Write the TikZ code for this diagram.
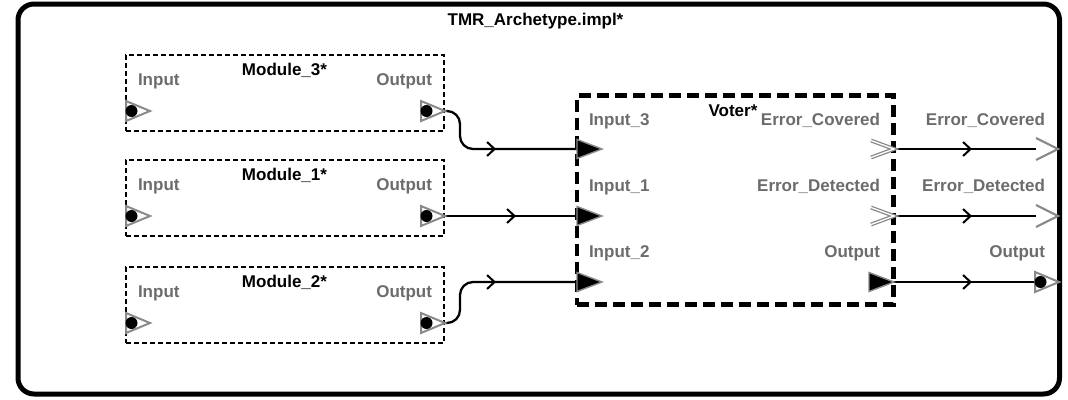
\documentclass[tikz,border=0pt]{standalone}
\usepackage{fontspec}
\setmainfont{Liberation Sans}
\usetikzlibrary{arrows.meta,decorations.markings,calc}
\definecolor{labelgray}{HTML}{6C6C6C}
\definecolor{portgray}{HTML}{8A8A8A}
\tikzset{
  lbl/.style={font=\fontsize{17}{20}\selectfont\bfseries, inner sep=0pt, outer sep=0pt},
  portlabel/.style={lbl, text=labelgray},
  namelabel/.style={lbl, text=black},
  sysframe/.style={draw, line width=5pt, rounded corners=16pt, inner sep=0pt},
  modbox/.style={draw, line width=1.8pt, dash pattern=on 5pt off 3pt,
    minimum width=318pt, minimum height=76pt, inner sep=0pt},
  voterbox/.style={draw, line width=4.5pt, dash pattern=on 12pt off 6pt,
    minimum width=316.5pt, minimum height=209pt, inner sep=0pt},
  flow/.style={decoration={markings, mark=at position #1 with
    {\arrow{Straight Barb[length=7.5pt,width=14pt,line width=2pt]}}},
    postaction={decorate}},
  wire/.style={line width=2.3pt},
  % ports, origin at the base of the triangle, pointing right
  pics/dotport/.style={code={
    \draw[portgray, line width=2pt, line join=miter] (0,-10) -- (24,0) -- (0,10) -- cycle;
    \fill[black] (5.5,0) circle (6pt);}},
  pics/dataport/.style={code={
    \filldraw[fill=black, draw=portgray, line width=1.4pt, line join=miter]
      (0,-9.5) -- (25,0) -- (0,9.5) -- cycle;}},
  pics/eventport/.style={code={
    \draw[portgray, line width=1.3pt, double=white, double distance=1.3pt, line join=miter]
      (0,-8.5) -- (23,0) -- (0,8.5);}},
  pics/sysevent/.style={code={
    \draw[portgray, line width=2.2pt, line join=miter] (0,-11) -- (22,0) -- (0,11);}},
}
\begin{document}
\begin{tikzpicture}[x=1pt,y=-1pt]
\useasboundingbox (0,0) rectangle (1068,399);

% system implementation frame
\node[sysframe, minimum width=1041.5pt, minimum height=390pt] (sys) at (538.75,199) {};
\node[namelabel, anchor=base] (systitle) at (535.5,25) {TMR\_Archetype.impl*};

% subcomponents
\node[modbox] (m3) at (285,93) {};
\node[modbox] (m1) at (285,198) {};
\node[modbox] (m2) at (285,305) {};
\node[voterbox] (voter) at (735.25,200) {};

% module labels
\foreach \m/\t/\n in {m3/55/3, m1/160/1, m2/267/2}{
  \node[namelabel, anchor=base] (\m title) at (284.5,\t+20) {Module\_\n*};
  \node[portlabel, anchor=base west] (\m inlbl) at (138,\t+30) {Input};
  \node[portlabel, anchor=base east] (\m outlbl) at (432,\t+30) {Output};
}

% voter labels
\node[namelabel, anchor=base] (votertitle) at (733,116) {Voter*};
\node[portlabel, anchor=base west] (vin3lbl) at (589,125) {Input\_3};
\node[portlabel, anchor=base west] (vin1lbl) at (589,191) {Input\_1};
\node[portlabel, anchor=base west] (vin2lbl) at (589,257) {Input\_2};
\node[portlabel, anchor=base east] (veclbl) at (880,125) {Error\_Covered};
\node[portlabel, anchor=base east] (vedlbl) at (880,191) {Error\_Detected};
\node[portlabel, anchor=base east] (voutlbl) at (880,257) {Output};

% system port labels
\node[portlabel, anchor=base east] (seclbl) at (1045,125) {Error\_Covered};
\node[portlabel, anchor=base east] (sedlbl) at (1045,191) {Error\_Detected};
\node[portlabel, anchor=base east] (soutlbl) at (1045,257) {Output};

% connection points
\coordinate (m3o) at (445,111);
\coordinate (m1o) at (445,216);
\coordinate (m2o) at (445,323);
\coordinate (v3) at (577,149);
\coordinate (v1) at (577,216);
\coordinate (v2) at (577,282);
\coordinate (vec) at (894,149);
\coordinate (ved) at (894,216);
\coordinate (vout) at (894,282);
\coordinate (sec) at (1036,149);
\coordinate (sed) at (1036,216);
\coordinate (sout) at (1035,282);

% connections
\draw[wire, flow=-81pt, rounded corners=13pt] (m3o) -- ++(15,0) |- (v3);
\draw[wire, flow=-61pt] (m1o) -- (v1);
\draw[wire, flow=-81pt, rounded corners=13pt] (m2o) -- ++(15,0) |- (v2);
\draw[wire, flow=-64pt] (vec) -- (sec);
\draw[wire, flow=-64pt] (ved) -- (sed);
\draw[wire, flow=-63pt] (vout) -- (sout);

% module ports
\foreach \y in {111,216,323}{
  \pic at (126,\y) {dotport};
  \pic at (421,\y) {dotport};
}
% voter ports
\foreach \y in {149,216,282}{ \pic at (577,\y) {dataport}; }
\pic at (871,149) {eventport};
\pic at (871,216) {eventport};
\pic at (869,282) {dataport};
% system ports
\pic at (1036,149) {sysevent};
\pic at (1036,216) {sysevent};
\pic at (1035,282) {dotport};
\end{tikzpicture}
\end{document}
